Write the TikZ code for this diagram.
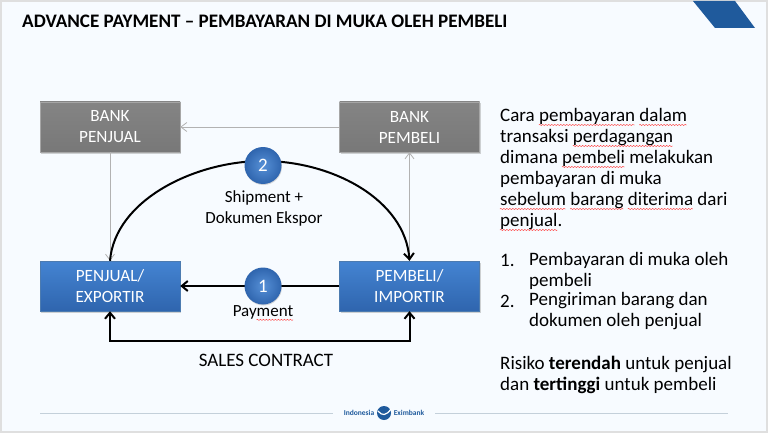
\documentclass[tikz,border=0pt]{standalone}
\usepackage{fontspec}
\setmainfont{Carlito}
\usetikzlibrary{shadows,arrows.meta,decorations.pathmorphing}
\definecolor{pagebg}{HTML}{F7FBFF}
\definecolor{slateblue}{HTML}{1F5A9C}
\definecolor{rulegray}{HTML}{C4D0DA}
\definecolor{bluetop}{HTML}{4484D2}
\definecolor{bluebot}{HTML}{2F65AE}
\definecolor{graytop}{HTML}{848484}
\definecolor{graybot}{HTML}{787878}
\newsavebox{\spellbox}
\newcommand{\spell}[1]{\sbox{\spellbox}{#1}\usebox{\spellbox}\llap{\tikz[baseline=3.6pt]\draw[red!75,line width=.45pt,decorate,decoration={snake,amplitude=.6pt,segment length=3pt}] (0pt,0pt) -- (\wd\spellbox,0pt);}}
\tikzset{
  graybox/.style={draw=gray!70,minimum width=140pt,minimum height=50pt,top color=graytop,bottom color=graybot,
    text=white,font=\fontsize{17.2}{21}\selectfont,align=center,drop shadow={shadow xshift=1pt,shadow yshift=-1.5pt,opacity=.35}},
  bluebox/.style={graybox,draw=slateblue!80,top color=bluetop,bottom color=bluebot},
  ballnode/.style={circle,minimum size=37pt,inner sep=0pt,text=white,font=\fontsize{19}{20}\selectfont,
    inner color=bluetop!90,outer color=bluebot,drop shadow={shadow xshift=.5pt,shadow yshift=-1pt,opacity=.3}},
  bodytext/.style={anchor=west,align=left,inner sep=0pt,font=\fontsize{19}{21}\selectfont},
  lbl/.style={font=\fontsize{17}{21}\selectfont,align=center,inner sep=0pt},
  thick line/.style={line width=2pt,black,-{Straight Barb[length=6pt,width=10pt]}},
  thin line/.style={line width=.8pt,gray!60,-{Straight Barb[length=6pt,width=9pt]}}
}
\begin{document}
\begin{tikzpicture}[x=1pt,y=-1pt]
  \node[fill=pagebg,draw=gray!25,line width=2pt,minimum width=766pt,minimum height=431pt,inner sep=0pt] (page) at (384,216.5) {};
  \useasboundingbox (0,0) rectangle (768,433);
  \fill[slateblue] (693,1) -- (735,1) -- (755,28) -- (715,28) -- cycle;
  \node[anchor=west,inner sep=0pt,font=\bfseries\fontsize{19.1}{20}\selectfont] (title) at (22,21) {ADVANCE PAYMENT -- PEMBAYARAN DI MUKA OLEH PEMBELI};

  \node[graybox] (bankjual) at (110,127) {BANK\\PENJUAL};
  \node[graybox] (bankbeli) at (409.5,127) {BANK\\PEMBELI};
  \node[bluebox] (penjual) at (110,286) {PENJUAL/\\EXPORTIR};
  \node[bluebox] (pembeli) at (409.5,286) {PEMBELI/\\IMPORTIR};

  \draw[thin line] (bankbeli) to (bankjual);
  \draw[thin line] (bankjual) to (penjual);
  \draw[thin line] (pembeli) to (bankbeli);

  \draw[line width=2pt] (penjual.north) .. controls (115,200) and (195,161) .. (263,161);
  \draw[thick line] (263,161) .. controls (333,161) and (405,200) .. (pembeli.north);
  \draw[thick line] (pembeli) to (penjual);
  \draw[thick line,{Straight Barb[length=6pt,width=10pt]}-{Straight Barb[length=6pt,width=10pt]}]
     (penjual.south) -- (110,341) -- (409.5,341) -- (pembeli.south);

  \node[ballnode] (two) at (263,165.5) {2};
  \node[ballnode] (one) at (263,286) {1};
  \node[lbl] (shipment) at (264,208.5) {Shipment +\\Dokumen Ekspor};
  \node[lbl] (payment) at (263,313) {Pay\spell{ment}};
  \node[lbl,font=\fontsize{19}{20}\selectfont] (sales) at (266,360) {SALES CONTRACT};

  \node[bodytext] (para) at (500,169.5) {Cara \spell{pembayaran} \spell{dalam}\\transaksi \spell{perdagangan}\\dimana \spell{pembeli} melakukan\\pembayaran di muka\\\spell{sebelum} \spell{barang} \spell{diterima} dari\\\spell{penjual}.};
  \node[bodytext] (numone) at (500,260) {1.};
  \node[bodytext] (itemone) at (529,270.5) {Pembayaran di muka oleh\\pembeli};
  \node[bodytext] (numtwo) at (500,301) {2.};
  \node[bodytext] (itemtwo) at (529,311.5) {Pengiriman barang dan\\dokumen oleh penjual};
  \node[bodytext] (risk) at (500,374.5) {Risiko \textbf{terendah} untuk penjual\\dan \textbf{tertinggi} untuk pembeli};

  \node[inner sep=0pt,font=\bfseries\fontsize{7.5}{8}\selectfont,text=slateblue] (logoleft) at (359,413) {Indonesia};
  \node[inner sep=0pt,font=\bfseries\fontsize{7.5}{8}\selectfont,text=slateblue] (logoright) at (409,413) {Eximbank};
  \node[circle,fill=slateblue,minimum size=14pt,inner sep=0pt] (logo) at (384,413) {};
  \draw[white,line width=1.2pt] (378,411) .. controls (382,416) and (386,416) .. (391,409);
  \draw[rulegray,line width=.8pt] (40,413) -- (333,413);
  \draw[rulegray,line width=.8pt] (435,413) -- (728,413);
\end{tikzpicture}
\end{document}
